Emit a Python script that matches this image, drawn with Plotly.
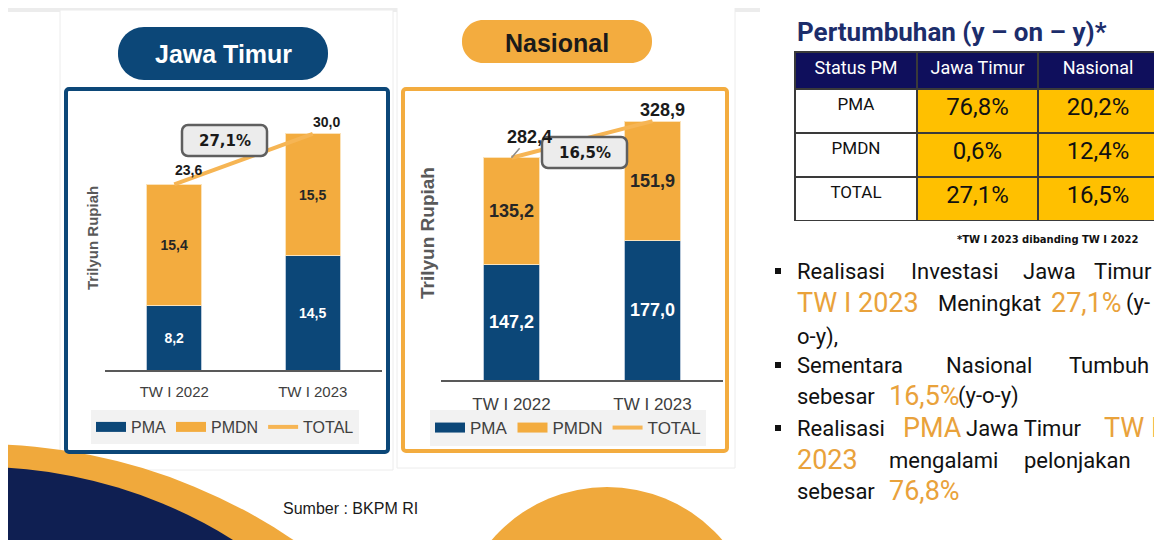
import plotly.graph_objects as go

W, H = 1162, 540
OFF = 8                      # default page margin of the html body
FW, FH = W - OFF, H - OFF    # figure size so that it fills the window

# ---------------- data ----------------
categories = ["TW I 2022", "TW I 2023"]
pma_jatim = [8.2, 14.5]
pmdn_jatim = [15.4, 15.5]
total_jatim = [23.6, 30.0]
growth_jatim = 27.1

pma_nas = [147.2, 177.0]
pmdn_nas = [135.2, 151.9]
total_nas = [282.4, 328.9]
growth_nas = 16.5

table_header = ["Status PM", "Jawa Timur", "Nasional"]
table_status = ["PMA", "PMDN", "TOTAL"]
table_jatim = [76.8, 0.6, 27.1]
table_nas = [20.2, 12.4, 16.5]

# ---------------- style ----------------
NAVY = "#0c4778"
ORANGE = "#f3ac3f"
LINE_OR = "#f6b554"
TXT_OR = "#e9a23b"
DARK = "#1a1a1a"
GRAY = "#595959"
ARIAL = "Liberation Sans, Arial, sans-serif"
DIN = "Roboto, sans-serif"


def fmt(v):
    return f"{v:.1f}".replace(".", ",")


def X(x):
    return (x - OFF) / FW


def Y(y):
    return 1 - (y - OFF) / FH


def pt(x, y):
    return f"{X(x):.5f},{Y(y):.5f}"


def rpath(x0, y0, x1, y1, r):
    k = 0.5523 * r
    return (
        f"M{pt(x0 + r, y0)} L{pt(x1 - r, y0)} "
        f"C{pt(x1 - r + k, y0)} {pt(x1, y0 + r - k)} {pt(x1, y0 + r)} "
        f"L{pt(x1, y1 - r)} "
        f"C{pt(x1, y1 - r + k)} {pt(x1 - r + k, y1)} {pt(x1 - r, y1)} "
        f"L{pt(x0 + r, y1)} "
        f"C{pt(x0 + r - k, y1)} {pt(x0, y1 - r + k)} {pt(x0, y1 - r)} "
        f"L{pt(x0, y0 + r)} "
        f"C{pt(x0, y0 + r - k)} {pt(x0 + r - k, y0)} {pt(x0 + r, y0)} Z"
    )


def ann(x, y, text, font, xanchor="center", yanchor="middle", **kw):
    return dict(xref="paper", yref="paper", x=X(x), y=Y(y), text=text, showarrow=False,
                xanchor=xanchor, yanchor=yanchor, font=font, **kw)


fig = go.Figure()

# ---------------- charts ----------------
def add_chart(pma, pmdn, total, xa, ya, leg, fs):
    fig.add_trace(go.Bar(
        x=categories, y=pma, width=0.4, name="PMA", showlegend=False,
        marker=dict(color=NAVY, line=dict(color="#b9c9da", width=1)),
        text=[fmt(v) for v in pma], textposition="inside", insidetextanchor="middle",
        textangle=0, textfont=dict(family=ARIAL, size=fs, color="white", weight="bold"),
        xaxis=xa, yaxis=ya, hoverinfo="skip"))
    fig.add_trace(go.Bar(
        x=categories, y=pmdn, width=0.4, name="PMDN", showlegend=False,
        marker=dict(color=ORANGE, line=dict(color="#fbe3bb", width=1)),
        text=[fmt(v) for v in pmdn], textposition="inside", insidetextanchor="middle",
        textangle=0, textfont=dict(family=ARIAL, size=fs, color="#262626", weight="bold"),
        xaxis=xa, yaxis=ya, hoverinfo="skip"))
    fig.add_trace(go.Scatter(
        x=categories, y=total, mode="lines", name="TOTAL", showlegend=False,
        line=dict(color=LINE_OR, width=4), xaxis=xa, yaxis=ya, hoverinfo="skip"))
    # legend entries (wide swatches)
    fig.add_trace(go.Scatter(x=[None], y=[None], mode="lines", name="PMA",
                             line=dict(color=NAVY, width=10), xaxis=xa, yaxis=ya, legend=leg))
    fig.add_trace(go.Scatter(x=[None], y=[None], mode="lines", name="PMDN",
                             line=dict(color=ORANGE, width=10), xaxis=xa, yaxis=ya, legend=leg))
    fig.add_trace(go.Scatter(x=[None], y=[None], mode="lines", name="TOTAL",
                             line=dict(color=LINE_OR, width=4), xaxis=xa, yaxis=ya, legend=leg))


add_chart(pma_jatim, pmdn_jatim, total_jatim, "x", "y", "legend", 14)
add_chart(pma_nas, pmdn_nas, total_nas, "x2", "y2", "legend2", 18)

shapes = []
annotations = []

# background bits
shapes.append(dict(type="rect", xref="paper", yref="paper", x0=X(0), x1=X(760), y0=Y(12), y1=Y(0),
                   fillcolor="#ececec", line=dict(width=0), layer="below"))
shapes.append(dict(type="rect", xref="paper", yref="paper", x0=X(60), x1=X(393), y0=Y(470), y1=Y(10),
                   fillcolor="#ffffff", line=dict(color="#ececec", width=1), layer="below"))
shapes.append(dict(type="rect", xref="paper", yref="paper", x0=X(397), x1=X(735), y0=Y(468), y1=Y(5),
                   fillcolor="#ffffff", line=dict(color="#ececec", width=1), layer="below"))


def circ(cx, cy, r, color):
    return dict(type="circle", xref="paper", yref="paper", x0=X(cx - r), x1=X(cx + r),
                y0=Y(cy + r), y1=Y(cy - r), fillcolor=color, line=dict(width=0), layer="below")


shapes.append(circ(-20, 1004, 560, "#f0a93c"))
shapes.append(circ(-20, 942, 475, "#0f1f52"))
shapes.append(circ(607, 639, 152, "#f0a93c"))

# panel borders
shapes.append(dict(type="path", xref="paper", yref="paper", path=rpath(66, 89, 388, 452, 3),
                   line=dict(color=NAVY, width=4), layer="above"))
shapes.append(dict(type="path", xref="paper", yref="paper", path=rpath(403, 89, 727, 451, 3),
                   line=dict(color=ORANGE, width=4), layer="above"))

# pills
shapes.append(dict(type="path", xref="paper", yref="paper", path=rpath(118, 27, 328, 80, 26),
                   fillcolor=NAVY, line=dict(width=0), layer="above"))
shapes.append(dict(type="path", xref="paper", yref="paper", path=rpath(462, 20, 652, 63, 21),
                   fillcolor=ORANGE, line=dict(width=0), layer="above"))
annotations.append(ann(223, 54, "Jawa Timur", dict(family=ARIAL, size=25, color="white", weight="bold")))
annotations.append(ann(557, 43, "Nasional", dict(family=ARIAL, size=25, color=DARK, weight="bold")))

# growth boxes
shapes.append(dict(type="path", xref="paper", yref="paper", path=rpath(182, 125, 267, 156, 6),
                   fillcolor="#ececec", line=dict(color="#5f5f5f", width=2.5), layer="above"))
shapes.append(dict(type="path", xref="paper", yref="paper", path=rpath(542, 137, 627, 168, 6),
                   fillcolor="#ececec", line=dict(color="#5f5f5f", width=2.5), layer="above"))
annotations.append(ann(224.5, 141, fmt(growth_jatim) + "%",
                       dict(family="DejaVu Sans", size=15, color=DARK, weight="bold")))
annotations.append(ann(584.5, 153, fmt(growth_nas) + "%",
                       dict(family="DejaVu Sans", size=15, color=DARK, weight="bold")))

# total labels
for i, (c, v) in enumerate(zip(categories, total_jatim)):
    annotations.append(dict(xref="x", yref="y", x=c, y=v, text=fmt(v), showarrow=False,
                            xanchor="center", yanchor="middle",
                            xshift=14, yshift=[14, 12][i],
                            font=dict(family=ARIAL, size=14, color=DARK, weight="bold")))
annotations.append(dict(xref="x2", yref="y2", x=categories[0], y=total_nas[0], text=fmt(total_nas[0]),
                        showarrow=True, arrowhead=0, arrowwidth=1.5, arrowcolor="#8c8c8c",
                        ax=18, ay=-21, standoff=0,
                        font=dict(family=ARIAL, size=18, color=DARK, weight="bold")))
annotations.append(dict(xref="x2", yref="y2", x=categories[1], y=total_nas[1], text=fmt(total_nas[1]),
                        showarrow=False, xshift=10, yshift=11, xanchor="center", yanchor="middle",
                        font=dict(family=ARIAL, size=18, color=DARK, weight="bold")))

# y-axis titles
annotations.append(ann(93, 238, "Trilyun Rupiah", dict(family=ARIAL, size=15, color=GRAY, weight="bold"),
                       textangle=-90))
annotations.append(ann(428, 233, "Trilyun Rupiah", dict(family=ARIAL, size=19, color=GRAY, weight="bold"),
                       textangle=-90))

# source
annotations.append(ann(350, 508, "Sumber : BKPM RI", dict(family=ARIAL, size=16, color=DARK)))

# ---------------- table ----------------
fig.add_trace(go.Table(
    domain=dict(x=[X(795), X(1158)], y=[Y(221), Y(52)]),
    columnwidth=[122, 121, 120],
    header=dict(values=table_header, fill_color="#0f0f5c", align="center",
                height=37, line=dict(color="#3a3a3a", width=2),
                font=dict(family=DIN, size=18, color="white")),
    cells=dict(values=[table_status,
                       [fmt(v) + "%" for v in table_jatim],
                       [fmt(v) + "%" for v in table_nas]],
               fill_color=["#ffffff", "#ffc000", "#ffc000"], align="center", height=44,
               line=dict(color="#3a3a3a", width=2),
               font=dict(family=DIN, size=[17, 24, 24], color="#111111")),
))
annotations.append(ann(795, 32, "Pertumbuhan (y – on – y)*",
                       dict(family=DIN, size=26, color="#1c2d6b", weight="bold"), xanchor="left"))
annotations.append(ann(1140, 239, "*TW I 2023 dibanding TW I 2022",
                       dict(family="DejaVu Sans", size=10, color="#111111", weight="bold"), xanchor="right"))

# ---------------- bullet text (justified by word placement) ----------------
B, O = "#111111", TXT_OR
lines = [
    (271, [(796, "Realisasi", B), (910, "Investasi", B), (1022, "Jawa", B), (1093, "Timur", B)]),
    (303, [(796, "TW I 2023", O), (937, "Meningkat", B), (1050, "27,1%", O), (1125, "(y-", B)]),
    (337, [(796, "o-y),", B)]),
    (365, [(796, "Sementara", B), (945, "Nasional", B), (1068, "Tumbuh", B)]),
    (396, [(796, "sebesar", B), (888, "16,5%", O), (957, "(y-o-y)", B)]),
    (428, [(796, "Realisasi", B), (902, "PMA", O), (965, "Jawa Timur", B), (1103, "TW I", O)]),
    (460, [(796, "2023", O), (888, "mengalami", B), (1023, "pelonjakan", B)]),
    (491, [(796, "sebesar", B), (888, "76,8%", O)]),
]
for yy, words in lines:
    for xx, w, col in words:
        annotations.append(ann(xx - 1, yy, w, dict(family=DIN, size=27 if col == O else 22, color=col),
                               xanchor="left"))
for yy in (271, 365, 428):
    shapes.append(dict(type="rect", xref="paper", yref="paper", x0=X(775), x1=X(781),
                       y0=Y(yy + 3), y1=Y(yy - 3), fillcolor="#111111", line=dict(width=0)))

# ---------------- layout ----------------
axis_common = dict(showgrid=False, zeroline=False, fixedrange=True)
fig.update_layout(
    width=FW, height=FH, autosize=False,
    margin=dict(l=0, r=0, t=0, b=0),
    paper_bgcolor="#ffffff", plot_bgcolor="rgba(0,0,0,0)",
    barmode="stack", showlegend=True,
    xaxis=dict(domain=[X(105), X(382)], anchor="y", showline=True, linecolor=GRAY, linewidth=2,
               ticks="outside", ticklen=7, tickcolor="rgba(0,0,0,0)",
               tickfont=dict(family=ARIAL, size=15, color="#404040"), **axis_common),
    yaxis=dict(domain=[Y(370), Y(95)], anchor="x", range=[0, 275 / 7.87], visible=False, **axis_common),
    xaxis2=dict(domain=[X(441), X(723)], anchor="y2", showline=True, linecolor=GRAY, linewidth=2,
                ticks="outside", ticklen=8, tickcolor="rgba(0,0,0,0)",
                tickfont=dict(family=ARIAL, size=17, color="#404040"), **axis_common),
    yaxis2=dict(domain=[Y(380), Y(95)], anchor="x2", range=[0, 285 / 0.787], visible=False, **axis_common),
    legend=dict(x=X(91), y=Y(427), xanchor="left", yanchor="middle", orientation="h",
                traceorder="normal", bgcolor="#f2f2f2", itemwidth=30,
                itemclick=False, itemdoubleclick=False,
                font=dict(family=ARIAL, size=16, color="#404040")),
    legend2=dict(x=X(430), y=Y(428), xanchor="left", yanchor="middle", orientation="h",
                 traceorder="normal", bgcolor="#f2f2f2", itemwidth=30,
                 itemclick=False, itemdoubleclick=False,
                 font=dict(family=ARIAL, size=17, color="#404040")),
    shapes=shapes, annotations=annotations,
)

fig.write_html("out.html")
